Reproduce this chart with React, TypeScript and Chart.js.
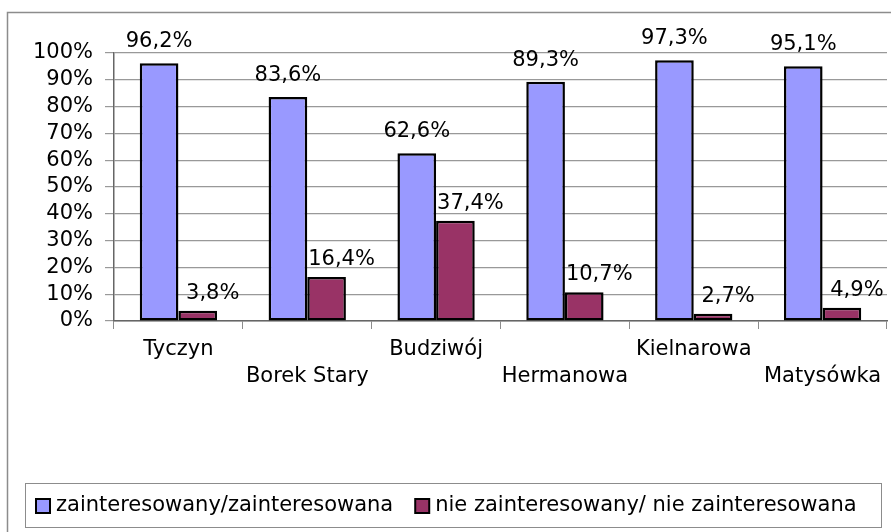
import React, { useEffect, useRef } from "react";
import { Chart, registerables } from "chart.js";

Chart.register(...registerables);

const categories: (string | string[])[] = [
  "Tyczyn",
  ["", "Borek Stary"],
  "Budziwój",
  ["", "Hermanowa"],
  "Kielnarowa",
  ["", "Matysówka"],
];
const seriesNames = [
  "zainteresowany/zainteresowana",
  "nie zainteresowany/ nie zainteresowana",
];
const interested = [96.2, 83.6, 62.6, 89.3, 97.3, 95.1];
const notInterested = [3.8, 16.4, 37.4, 10.7, 2.7, 4.9];
const seriesColors = ["#9999FF", "#993366"];

const FONT = "'DejaVu Sans', 'Liberation Sans', Arial, sans-serif";

const fmt = (v: number) => v.toFixed(1).replace(".", ",") + "%";

const framePlugin = {
  id: "frame",
  beforeDraw(chart: any) {
    const ctx = chart.ctx;
    ctx.save();
    ctx.fillStyle = "#ffffff";
    ctx.fillRect(0, 0, chart.width, chart.height);
    ctx.strokeStyle = "#8c8c8c";
    ctx.lineWidth = 1.5;
    ctx.beginPath();
    ctx.moveTo(7.5, chart.height + 2);
    ctx.lineTo(7.5, 12.5);
    ctx.lineTo(chart.width + 2, 12.5);
    ctx.stroke();
    ctx.restore();
  },
};

const labelPlugin = {
  id: "barLabels",
  afterDatasetsDraw(chart: any) {
    const ctx = chart.ctx;
    ctx.save();
    ctx.font = `21px ${FONT}`;
    ctx.fillStyle = "#000";
    ctx.textAlign = "center";
    ctx.textBaseline = "alphabetic";
    chart.data.datasets.forEach((ds: any, di: number) => {
      const meta = chart.getDatasetMeta(di);
      meta.data.forEach((el: any, i: number) => {
        const dx = di === 0 ? 0 : 15;
        const dy = di === 0 ? 16 : 12;
        ctx.fillText(fmt(ds.data[i]), el.x + dx, el.y - dy);
      });
    });
    ctx.restore();
  },
};

const legendPlugin = {
  id: "boxLegend",
  afterDraw(chart: any) {
    const ctx = chart.ctx;
    ctx.save();
    ctx.strokeStyle = "#8c8c8c";
    ctx.lineWidth = 1;
    ctx.strokeRect(25.5, 483.5, 856, 44);
    ctx.font = `21px ${FONT}`;
    ctx.textBaseline = "middle";
    ctx.textAlign = "left";
    let x = 36;
    const cy = 506;
    chart.data.datasets.forEach((ds: any) => {
      ctx.fillStyle = ds.backgroundColor;
      ctx.fillRect(x, cy - 7, 14, 14);
      ctx.strokeStyle = "#000";
      ctx.lineWidth = 2;
      ctx.strokeRect(x, cy - 7, 14, 14);
      ctx.fillStyle = "#000";
      ctx.fillText(ds.label, x + 20, cy);
      x += 20 + ctx.measureText(ds.label).width + 22;
    });
    ctx.restore();
  },
};

export default function App() {
  const ref = useRef<HTMLCanvasElement | null>(null);
  useEffect(() => {
    if (!ref.current) return;
    const chart = new Chart(ref.current, {
      type: "bar",
      data: {
        labels: categories as any,
        datasets: [
          {
            label: seriesNames[0],
            data: interested,
            backgroundColor: seriesColors[0],
            borderColor: "#000",
            borderWidth: 2.5,
            borderSkipped: false,
            categoryPercentage: 0.6,
            barPercentage: 1.0,
          },
          {
            label: seriesNames[1],
            data: notInterested,
            backgroundColor: seriesColors[1],
            borderColor: "#000",
            borderWidth: 2.5,
            borderSkipped: false,
            categoryPercentage: 0.6,
            barPercentage: 1.0,
          },
        ],
      },
      options: {
        animation: false,
        responsive: false,
        maintainAspectRatio: false,
        layout: { padding: { top: 53, right: 4, bottom: 0, left: 0 } },
        plugins: {
          legend: { display: false },
          tooltip: { enabled: false },
        },
        scales: {
          x: {
            afterFit: (s: any) => {
              s.height = 211;
            },
            grid: {
              display: true,
              drawOnChartArea: false,
              drawTicks: true,
              tickLength: 8,
              color: "#8c8c8c",
              offset: true,
            },
            border: { display: true, color: "#666", width: 1.5 },
            ticks: {
              color: "#000",
              font: { family: FONT, size: 21, lineHeight: 1.24 },
              padding: 8,
              maxRotation: 0,
              autoSkip: false,
            },
          },
          y: {
            min: 0,
            max: 100,
            afterFit: (s: any) => {
              s.width = 114;
            },
            grid: {
              color: "#999",
              lineWidth: 1.2,
              tickLength: 9,
            },
            border: { display: true, color: "#666", width: 1.5 },
            ticks: {
              stepSize: 10,
              autoSkip: false,
              color: "#000",
              font: { family: FONT, size: 21, lineHeight: 1.0 },
              padding: 12,
              callback: (v: any) => v + "%",
            },
          },
        },
      },
      plugins: [framePlugin, labelPlugin, legendPlugin],
    });
    return () => chart.destroy();
  }, []);
  return (
    <div style={{ position: "absolute", left: 0, top: 0, width: 891, height: 532 }}>
      <canvas ref={ref} width={891} height={532} style={{ width: 891, height: 532 }} />
    </div>
  );
}
